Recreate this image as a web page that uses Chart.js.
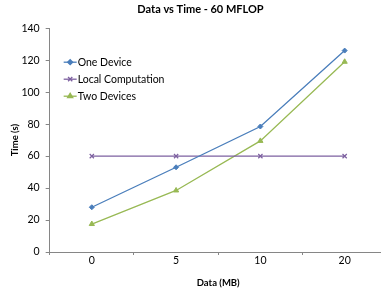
<!DOCTYPE html>
<html><head><meta charset="utf-8">
<script src="https://cdn.jsdelivr.net/npm/chart.js@4.4.1/dist/chart.umd.min.js"></script>
<style>html,body{margin:0;padding:0;background:#fff;overflow:hidden;}</style>
</head><body>
<canvas id="c" width="392" height="297"></canvas>
<script>
const categories = ["0", "5", "10", "20"];
const oneDevice = [28, 53, 78.5, 126];
const localComputation = [60, 60, 60, 60];
const twoDevices = [17.5, 38.5, 69.5, 119];
const yTicks = [0, 20, 40, 60, 80, 100, 120, 140];

const FONT = "Lato, 'Open Sans', sans-serif";

const legendPlugin = {
  id: 'inlegend',
  afterDatasetsDraw(chart) {
    const ctx = chart.ctx;
    const x0 = chart.chartArea.left + 14;
    let y = chart.chartArea.top + 34;
    ctx.save();
    chart.data.datasets.forEach((ds) => {
      ctx.strokeStyle = ds.borderColor;
      ctx.fillStyle = ds.borderColor;
      ctx.lineWidth = 1.3;
      ctx.beginPath(); ctx.moveTo(x0, y); ctx.lineTo(x0 + 13, y); ctx.stroke();
      Chart.helpers.drawPoint(ctx, {pointStyle: ds.pointStyle, radius: ds.pointRadius, borderWidth: 1.2, rotation: 0}, x0 + 6.5, y);
      ctx.fillStyle = '#000';
      ctx.font = "10.5px " + FONT;
      ctx.textBaseline = 'middle';
      ctx.textAlign = 'left';
      ctx.fillText(ds.label, x0 + 14, y + 0.5);
      y += 17;
    });
    ctx.restore();
  }
};

new Chart(document.getElementById('c'), {
  type: 'line',
  data: {
    labels: categories,
    datasets: [
      {label: 'One Device', data: oneDevice, borderColor: '#4a7ebb', backgroundColor: '#4a7ebb', pointStyle: 'rectRot', pointRadius: 2.5, borderWidth: 1.3, pointBorderWidth: 1},
      {label: 'Local Computation', data: localComputation, borderColor: '#7d60a0', backgroundColor: '#7d60a0', pointStyle: 'crossRot', pointRadius: 3, borderWidth: 1.3, pointBorderWidth: 1.2},
      {label: 'Two Devices', data: twoDevices, borderColor: '#98b954', backgroundColor: '#98b954', pointStyle: 'triangle', pointRadius: 3, borderWidth: 1.3, pointBorderWidth: 1}
    ]
  },
  options: {
    responsive: false,
    animation: false,
    layout: {padding: {left: 9, right: 0, top: 0, bottom: 8}},
    plugins: {
      legend: {display: false},
      tooltip: {enabled: false},
      title: {display: true, text: 'Data vs Time - 60 MFLOP', color: '#000', font: {family: FONT, size: 11, weight: 'bold'}, padding: {top: 3, bottom: 12}}
    },
    scales: {
      x: {
        offset: true,
        grid: {display: true, drawOnChartArea: false, offset: true, tickLength: 3, color: '#868686'},
        border: {color: '#868686'},
        ticks: {color: '#000', font: {family: FONT, size: 10.5}, padding: -1},
        title: {display: true, text: 'Data (MB)', color: '#000', font: {family: FONT, size: 9.5, weight: 'bold'}, padding: {top: 12, bottom: 0}}
      },
      y: {
        min: 0, max: 140,
        afterBuildTicks(axis) { axis.ticks = yTicks.map(v => ({value: v})); },
        grid: {display: true, drawOnChartArea: false, tickLength: 4, color: '#868686'},
        border: {color: '#868686'},
        ticks: {color: '#000', font: {family: FONT, size: 10.5}, padding: 6},
        title: {display: true, text: 'Time (s)', color: '#000', font: {family: FONT, size: 9.5, weight: 'bold'}, padding: {top: 0, bottom: -5}}
      }
    }
  },
  plugins: [legendPlugin]
});
</script>
</body></html>
